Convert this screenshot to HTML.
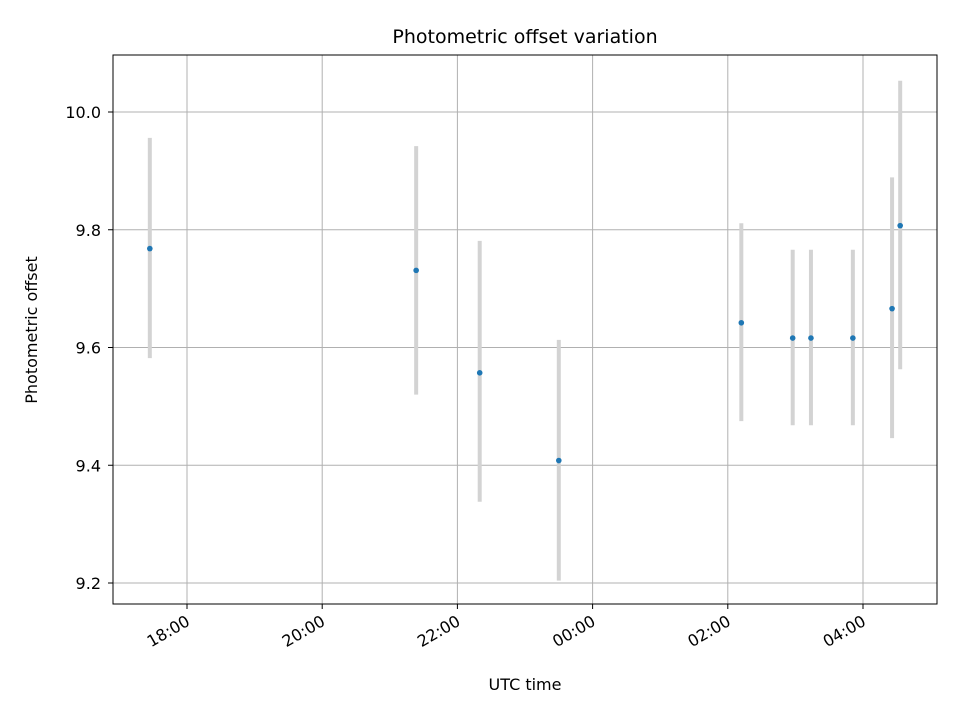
<!DOCTYPE html>
<html><head><meta charset="utf-8"><style>
body{margin:0;background:#fff;font-family:"Liberation Sans","DejaVu Sans",sans-serif}
svg text{font-family:"DejaVu Sans","Liberation Sans",sans-serif;fill:#000}
</style></head><body>
<svg id="chart" width="960" height="720" xmlns="http://www.w3.org/2000/svg">
<text x="525" y="43" font-size="19" text-anchor="middle">Photometric offset variation</text>
<g id="grid"></g>
<g id="marks"></g>
<rect x="113" y="55" width="824" height="549" fill="none" stroke="#000" stroke-width="1"/>
<g id="axes"></g>
<text x="525" y="690" font-size="16" text-anchor="middle">UTC time</text>
<text transform="translate(37,330) rotate(-90)" font-size="16" text-anchor="middle">Photometric offset</text>
</svg>
<script>
// hours relative to 18:00 UTC
const times = [-0.55, 3.39, 4.33, 5.50, 8.20, 8.96, 9.23, 9.85, 10.43, 10.55];
const values = [9.768, 9.731, 9.557, 9.408, 9.642, 9.616, 9.616, 9.616, 9.666, 9.807];
const errLow = [9.582, 9.520, 9.338, 9.204, 9.475, 9.468, 9.468, 9.468, 9.446, 9.563];
const errHigh = [9.956, 9.942, 9.781, 9.613, 9.811, 9.766, 9.766, 9.766, 9.889, 10.053];
const xTicks = [0, 2, 4, 6, 8, 10];
const xTickLabels = ["18:00", "20:00", "22:00", "00:00", "02:00", "04:00"];
const yTicks = [9.2, 9.4, 9.6, 9.8, 10.0];
const yTickLabels = ["9.2", "9.4", "9.6", "9.8", "10.0"];

const NS = "http://www.w3.org/2000/svg";
function X(h){return 187 + h*67.6;}
function Y(v){return 112 + (10 - v)/0.2*117.75;}
function mk(parent, tag, attrs){const e=document.createElementNS(NS,tag);for(const k in attrs)e.setAttribute(k,attrs[k]);document.getElementById(parent).appendChild(e);return e;}

xTicks.forEach((t,i)=>{
  const x=X(t);
  const g=mk('grid','line',{x1:x,x2:x,y1:55,y2:604,stroke:'#b0b0b0','stroke-width':1});
  
  
  const tk=mk('axes','line',{x1:x,x2:x,y1:604,y2:609,stroke:'#000'});
  
  
  const tx=mk('axes','text',{transform:`translate(${x-2},${614}) rotate(-30)`,'font-size':16,'text-anchor':'end','dominant-baseline':'hanging'});
  tx.textContent=xTickLabels[i];
  
  
});
yTicks.forEach((t,i)=>{
  const y=Y(t);
  const g=mk('grid','line',{x1:113,x2:937,y1:y,y2:y,stroke:'#b0b0b0','stroke-width':1});
  
  
  const tk=mk('axes','line',{x1:108,x2:113,y1:y,y2:y,stroke:'#000'});
  
  
  const tx=mk('axes','text',{x:101,y:y+6,'font-size':16,'text-anchor':'end'});
  tx.textContent=yTickLabels[i];
  
  
});
times.forEach((t,i)=>{
  const x=X(t);
  const e=mk('marks','line',{x1:x,x2:x,y1:Y(errHigh[i]),y2:Y(errLow[i]),stroke:'#d3d3d3','stroke-width':4});
  
  
});
times.forEach((t,i)=>{
  const c=mk('marks','circle',{cx:X(t),cy:Y(values[i]),r:2.8,fill:'#1f77b4'});
  
  
});
</script>
</body></html>
